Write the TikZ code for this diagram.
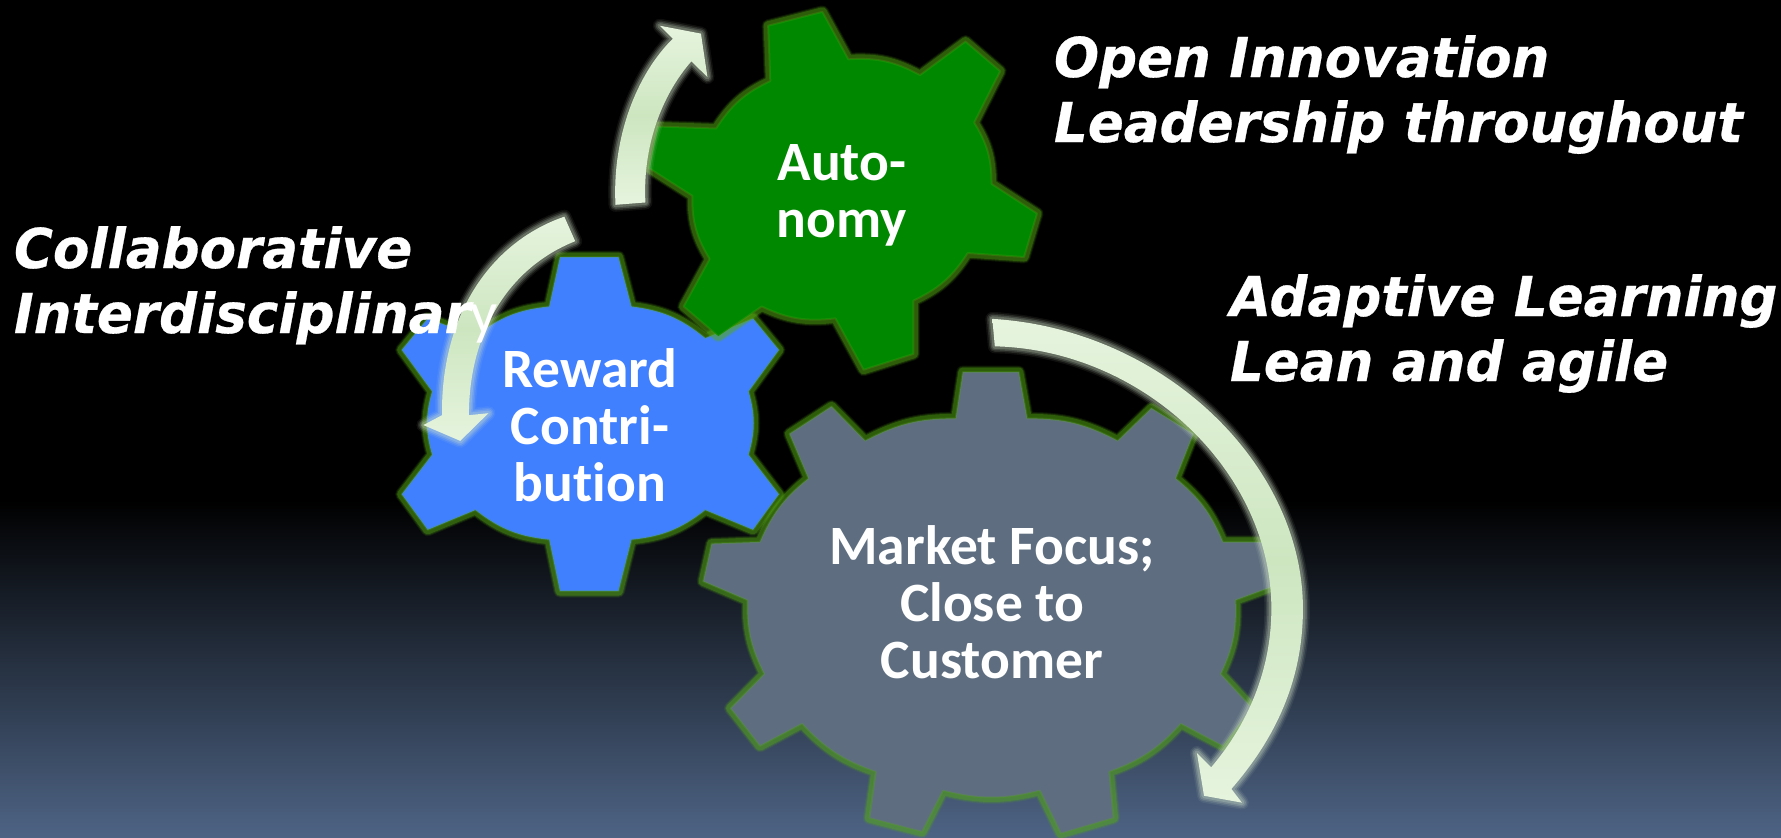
\documentclass[tikz,border=0pt]{standalone}
\usepackage{fontspec}
\setmainfont[Ligatures=NoCommon]{Carlito}
\newfontfamily\verd[FakeStretch=0.965,FakeBold=0.5]{DejaVu Sans}
\definecolor{gearline}{RGB}{85,170,20}
\definecolor{arrowglow}{RGB}{215,232,205}
\definecolor{arrowlight}{RGB}{230,244,222}
\definecolor{arrowmid}{RGB}{205,230,192}
\definecolor{gearblue}{RGB}{64,128,255}
\definecolor{geargreen}{RGB}{0,136,0}
\definecolor{geargrey}{RGB}{94,110,128}
\definecolor{bgbottom}{RGB}{78,100,133}
\tikzset{
  gearshape/.style={
    preaction={draw=gearline,line join=round,line width=13pt,opacity=.12},
    preaction={draw=gearline,line join=round,line width=11pt,opacity=.22},
    preaction={draw=gearline,line join=round,line width=9pt,opacity=.35},
    preaction={fill=#1},
    postaction={draw=gearline,line join=round,line width=2pt,opacity=.25}},
  arrowshape/.style={
    preaction={draw=arrowglow,line join=round,line width=14pt,opacity=.07},
    preaction={draw=arrowglow,line join=round,line width=11pt,opacity=.12},
    preaction={draw=arrowglow,line join=round,line width=8pt,opacity=.18},
    preaction={draw=arrowglow,line join=round,line width=5pt,opacity=.22},
    top color=arrowlight,bottom color=arrowlight,middle color=arrowmid},
  headline/.style={font=\verd\bfseries\itshape\fontsize{55}{65}\selectfont,text=white,inner sep=0pt,outer sep=0pt,align=left},
  gearlabel/.style={font=\bfseries\fontsize{55.5}{57}\selectfont,text=white,inner sep=0pt,outer sep=0pt,align=center},
  zoomA/.style={shift={(380,0)},x=0.4337pt,y=-0.3954pt},
  zoomB/.style={shift={(680,300)},x=0.4209pt,y=-0.3431pt},
  bl/.style={bend left=#1},
}
\begin{document}
\begin{tikzpicture}[x=1pt,y=-1pt]
\useasboundingbox (0,0) rectangle (1781,838);
\fill[black] (0,0) rectangle (1781,500);
\shade[top color=black,bottom color=bgbottom] (0,500) rectangle (1781,838);

% blue gear
\begin{scope}[zoomA]
\path[gearshape=gearblue] (415,650) -- (550,650) -- (580,775) to[bl=16] (750,855) -- (860,805) -- (920,885) -- (850,990)
  to[bl=16] (850,1150) -- (920,1250) -- (860,1340) -- (750,1290) to[bl=16] (580,1365) -- (550,1495) -- (415,1495) -- (390,1365)
  to[bl=16] (220,1290) -- (110,1340) -- (50,1250) -- (120,1150) to[bl=16] (120,990) -- (50,885) -- (110,805) -- (220,850) to[bl=16] (390,775) -- cycle;
\end{scope}
% grey gear
\begin{scope}[zoomB]
\path[gearshape=geargrey] (672,210) -- (805,210) -- (825,345) to[bl=14] (1040,410) -- (1120,315) -- (1220,390) -- (1178,520)
  to[bl=14] (1290,705) -- (1420,705) -- (1420,830) -- (1320,875) to[bl=14] (1285,1090) -- (1360,1190) -- (1290,1300) -- (1190,1235)
  to[bl=14] (1020,1375) -- (1030,1510) -- (905,1555) -- (855,1430) to[bl=14] (625,1430) -- (575,1550) -- (450,1510) -- (465,1375)
  to[bl=14] (290,1235) -- (190,1300) -- (120,1190) -- (200,1090) to[bl=14] (160,875) -- (55,820) -- (75,710) -- (190,705)
  to[bl=14] (305,520) -- (260,390) -- (360,310) -- (440,410) to[bl=14] (655,345) -- cycle;
\end{scope}
% green gear
\begin{scope}[zoomA]
\path[gearshape=geargreen] (895,65) -- (1020,30) -- (1080,150) to[bl=16] (1245,190) -- (1350,105) -- (1430,180) -- (1370,310)
  to[bl=16] (1410,465) -- (1515,540) -- (1485,650) -- (1355,640) to[bl=16] (1230,760) -- (1230,895) -- (1115,935) -- (1050,805)
  to[bl=16] (880,775) -- (780,850) -- (700,775) -- (760,655) to[bl=16] (720,495) -- (620,425) -- (640,320) -- (775,325)
  to[bl=16] (900,205) -- cycle;
\end{scope}

% arrows
\begin{scope}[zoomB]
\path[arrowshape] (742,55) .. controls (1150,85) and (1480,480) .. (1480,900) .. controls (1480,1100) and (1420,1270) .. (1310,1425)
  -- (1335,1465) -- (1245,1445) -- (1228,1320) -- (1262,1362) .. controls (1360,1220) and (1405,1060) .. (1405,900)
  .. controls (1405,500) and (1100,145) .. (748,135) -- cycle;
\end{scope}
\begin{scope}[zoomA]
\path[arrowshape] (543,518) .. controls (535,350) and (590,190) .. (675,98) -- (645,65) -- (740,85) -- (755,195) -- (718,155)
  .. controls (650,240) and (605,370) .. (612,512) -- cycle;
\path[arrowshape] (425,548) .. controls (260,610) and (140,790) .. (143,1050) -- (100,1075) -- (185,1115) -- (250,1045) -- (205,1050)
  .. controls (205,850) and (290,680) .. (450,610) -- cycle;
\end{scope}

% gear labels
\node[gearlabel] (auto) at (842,195) {Auto-\\nomy};
\node[gearlabel] (reward) at (590,425) {Reward\\Contri-\\bution};
\node[gearlabel] (market) at (992,602) {Market Focus;\\Close to\\Customer};

% headlines
\node[headline,anchor=base west] (open) at (1054,142) {Open Innovation\\Leadership throughout};
\node[headline,anchor=base west] (collab) at (14,333) {Collaborative\\Interdisciplinar{\normalfont\fontsize{60}{65}\selectfont y}};
\node[headline,anchor=base west] (adapt) at (1230,381) {Adaptive Learning\\Lean and agile};
\end{tikzpicture}
\end{document}
